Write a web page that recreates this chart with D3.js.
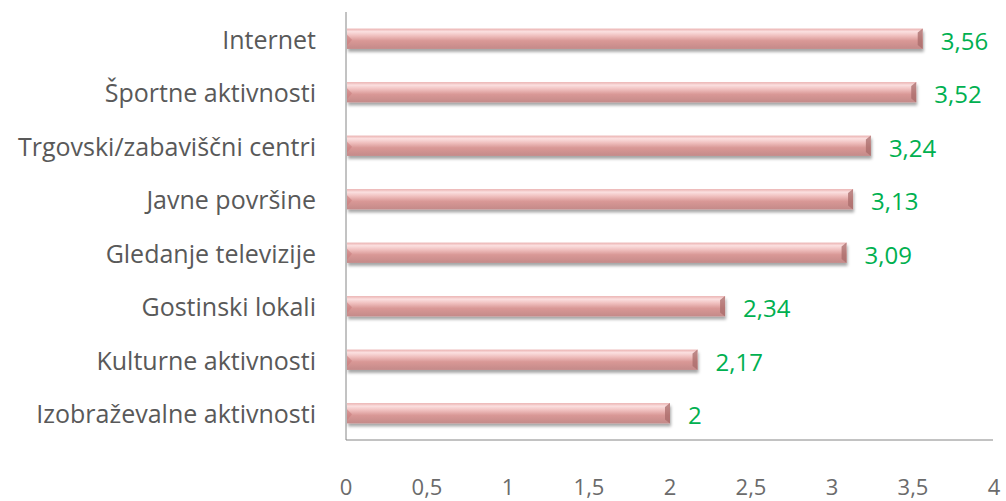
<!DOCTYPE html>
<html>
<head>
<meta charset="utf-8">
<script src="https://cdn.jsdelivr.net/npm/d3@7"></script>
<style>
	body { margin: 0; background: #fff; }
	text { font-family: "Open Sans", sans-serif; }
</style>
</head>
<body>
<svg id="chart"></svg>
<script>
const categories = ['Internet', 'Športne aktivnosti', 'Trgovski/zabaviščni centri', 'Javne površine',
	'Gledanje televizije', 'Gostinski lokali', 'Kulturne aktivnosti', 'Izobraževalne aktivnosti'];
const values = [3.56, 3.52, 3.24, 3.13, 3.09, 2.34, 2.17, 2];
const ticks = [0, 0.5, 1, 1.5, 2, 2.5, 3, 3.5, 4];

const width = 1006;
const height = 501;

const svg = d3.select('#chart')
	.attr('width', width)
	.attr('height', height);

const fmt = v => String(v).replace('.', ',');

const xScale = d3.scaleLinear().domain([0, 4]).range([346, 994]);
const yScale = d3.scaleBand().domain(categories).range([12, 440]).paddingInner(0.62).paddingOuter(0.31);

const defs = svg.append('defs');
const grad = defs.append('linearGradient')
	.attr('id', 'barGrad')
	.attr('x1', 0).attr('y1', 0).attr('x2', 0).attr('y2', 1);
grad.append('stop').attr('offset', '0%').attr('stop-color', '#eab0af');
grad.append('stop').attr('offset', '15%').attr('stop-color', '#fbe0e0');
grad.append('stop').attr('offset', '35%').attr('stop-color', '#f0c0bf');
grad.append('stop').attr('offset', '60%').attr('stop-color', '#d99896');
grad.append('stop').attr('offset', '100%').attr('stop-color', '#c48a89');

const filter = defs.append('filter').attr('id', 'shadow')
	.attr('x', '-5%').attr('y', '-30%').attr('width', '110%').attr('height', '180%');
filter.append('feDropShadow')
	.attr('dx', 1).attr('dy', 3).attr('stdDeviation', 1.6)
	.attr('flood-color', '#000').attr('flood-opacity', 0.35);

// axis lines
svg.append('line')
	.attr('x1', xScale(0)).attr('x2', xScale(0))
	.attr('y1', 12).attr('y2', 440)
	.attr('stroke', '#868686').attr('stroke-width', 1);
svg.append('line')
	.attr('x1', xScale(0)).attr('x2', xScale(4) - 1)
	.attr('y1', 440).attr('y2', 440)
	.attr('stroke', '#868686').attr('stroke-width', 1);

const bars = svg.append('g').selectAll('g')
	.data(values)
	.join('g')
	.attr('transform', (d, i) => `translate(0, ${yScale(categories[i])})`);

const bh = yScale.bandwidth();

bars.append('rect')
	.attr('x', xScale(0) + 1)
	.attr('y', 0)
	.attr('width', d => xScale(d) - xScale(0) - 1)
	.attr('height', bh)
	.attr('fill', 'url(#barGrad)')
	.attr('filter', 'url(#shadow)');

// bevel at the right end
bars.append('path')
	.attr('d', d => {
		const x = xScale(d);
		return `M${x},0 L${x},${bh} L${x - 5},${bh - 4} L${x - 5},4 Z`;
	})
	.attr('fill', '#a86b6a')
	.attr('opacity', 0.75);
// bevel at the left end
bars.append('path')
	.attr('d', `M${xScale(0) + 1},${bh * 0.3} L${xScale(0) + 6},${bh * 0.55} L${xScale(0) + 1},${bh * 0.85} Z`)
	.attr('fill', '#c97f7e')
	.attr('opacity', 0.6);

// value labels
svg.append('g').selectAll('text')
	.data(values)
	.join('text')
	.attr('x', d => xScale(d) + 18)
	.attr('y', (d, i) => yScale(categories[i]) + bh / 2 + 11)
	.attr('fill', '#00b050')
	.attr('font-size', 24)
	.text(d => fmt(d));

// category labels
svg.append('g').selectAll('text')
	.data(categories)
	.join('text')
	.attr('x', 316)
	.attr('y', d => yScale(d) + bh / 2 + 10)
	.attr('text-anchor', 'end')
	.attr('fill', '#595959')
	.attr('font-size', 25)
	.text(d => d);

// tick labels
svg.append('g').selectAll('text')
	.data(ticks)
	.join('text')
	.attr('x', d => xScale(d))
	.attr('y', 495)
	.attr('text-anchor', 'middle')
	.attr('fill', '#6b6b6b')
	.attr('font-size', 22)
	.text(d => fmt(d));
</script>
</body>
</html>
